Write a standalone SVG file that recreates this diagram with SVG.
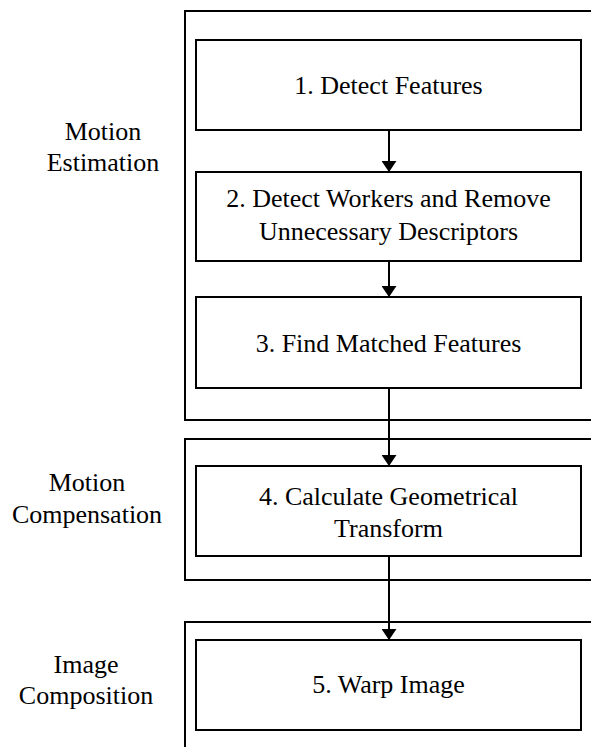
<svg xmlns="http://www.w3.org/2000/svg" width="591" height="747" viewBox="0 0 591 747">
<style>
.frame{fill:none;stroke:#000;stroke-width:2}
.box{fill:#fff;stroke:#000;stroke-width:2}
.t{font-size:26px;fill:#000;text-anchor:middle}
.conn{stroke:#000;stroke-width:2;fill:none}
</style>
<defs>
<marker id="ah" markerWidth="11" markerHeight="15" refX="11" refY="7.5" orient="auto" markerUnits="userSpaceOnUse">
<path d="M0,0 L11,7.5 L0,15 Z" fill="#000"/>
</marker>
</defs>
<rect width="591" height="747" fill="#fff"/>
<g id="frame-motion-estimation" font-family="Liberation Serif">
<rect class="frame" x="185" y="11" width="420" height="409"/>
<text class="t" style="font-family:'Liberation Serif',serif !important" x="103" y="140">Motion</text>
<text class="t" style="font-family:'Liberation Serif',serif !important" x="103" y="171">Estimation</text>
</g>
<g id="frame-motion-compensation" font-family="Liberation Serif">
<rect class="frame" x="185" y="439" width="420" height="141"/>
<text class="t" style="font-family:'Liberation Serif',serif !important" x="87" y="491">Motion</text>
<text class="t" style="font-family:'Liberation Serif',serif !important" x="87" y="523">Compensation</text>
</g>
<g id="frame-image-composition" font-family="Liberation Serif">
<rect class="frame" x="185" y="622" width="420" height="140"/>
<text class="t" style="font-family:'Liberation Serif',serif !important" x="86" y="673">Image</text>
<text class="t" style="font-family:'Liberation Serif',serif !important" x="86" y="704">Composition</text>
</g>
<g id="connectors">
<line class="conn" x1="389" y1="130" x2="389" y2="172" marker-end="url(#ah)"/>
<line class="conn" x1="389" y1="261" x2="389" y2="297" marker-end="url(#ah)"/>
<line class="conn" x1="389" y1="388" x2="389" y2="466" marker-end="url(#ah)"/>
<line class="conn" x1="389" y1="556" x2="389" y2="640" marker-end="url(#ah)"/>
</g>
<g id="node1" font-family="Liberation Serif">
<rect class="box" x="196" y="40" width="385" height="90"/>
<text class="t" style="font-family:'Liberation Serif',serif !important" x="388.5" y="94">1. Detect Features</text>
</g>
<g id="node2" font-family="Liberation Serif">
<rect class="box" x="196" y="172" width="385" height="89"/>
<text class="t" style="font-family:'Liberation Serif',serif !important" x="388.5" y="207">2. Detect Workers and Remove</text>
<text class="t" style="font-family:'Liberation Serif',serif !important" x="388.5" y="240">Unnecessary Descriptors</text>
</g>
<g id="node3" font-family="Liberation Serif">
<rect class="box" x="196" y="297" width="385" height="91"/>
<text class="t" style="font-family:'Liberation Serif',serif !important" x="388.5" y="352">3. Find Matched Features</text>
</g>
<g id="node4" font-family="Liberation Serif">
<rect class="box" x="196" y="466" width="385" height="90"/>
<text class="t" style="font-family:'Liberation Serif',serif !important" x="388.5" y="505">4. Calculate Geometrical</text>
<text class="t" style="font-family:'Liberation Serif',serif !important" x="388.5" y="537">Transform</text>
</g>
<g id="node5" font-family="Liberation Serif">
<rect class="box" x="196" y="640" width="385" height="90"/>
<text class="t" style="font-family:'Liberation Serif',serif !important" x="388.5" y="693">5. Warp Image</text>
</g>
</svg>
